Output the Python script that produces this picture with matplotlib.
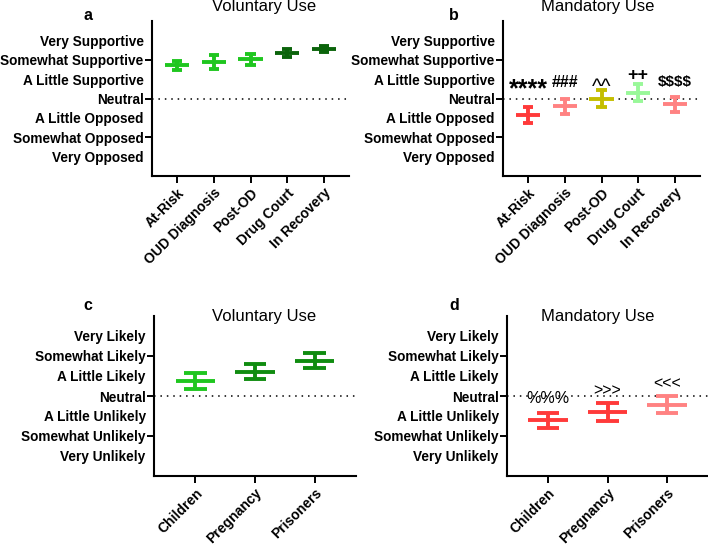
import numpy as np
import matplotlib.pyplot as plt

plt.rcParams['font.family'] = ['Liberation Sans', 'DejaVu Sans']

# panels a/b: support for naloxone use by setting
settings = ['At-Risk', 'OUD Diagnosis', 'Post-OD', 'Drug Court', 'In Recovery']
support_labels = ['Very Opposed', 'Somewhat Opposed', 'A Little Opposed', 'Neutral',
                  'A Little Supportive', 'Somewhat Supportive', 'Very Supportive']
vol_mean = [1.72, 1.88, 2.02, 2.33, 2.57]
vol_err = [0.23, 0.35, 0.28, 0.20, 0.15]
vol_colors = ['#1fc61f', '#1fc61f', '#1fc61f', '#0b640b', '#0b640b']
man_mean = [-0.85, -0.41, 0.0, 0.30, -0.29]
man_err = [0.41, 0.41, 0.44, 0.44, 0.39]
man_colors = ['#ff3a3a', '#ff8282', '#c4be00', '#99f899', '#ff8282']
man_sig = ['****', '###', '^^', '++', '$$$$']

# panels c/d: likelihood of use by population
groups = ['Children', 'Pregnancy', 'Prisoners']
likely_labels = ['Very Unlikely', 'Somewhat Unlikely', 'A Little Unlikely', 'Neutral',
                 'A Little Likely', 'Somewhat Likely', 'Very Likely']
pop_vol_mean = [0.74, 1.22, 1.77]
pop_vol_err = [0.39, 0.38, 0.38]
pop_vol_colors = ['#1fc61f', '#108c10', '#108c10']
pop_man_mean = [-1.22, -0.79, -0.43]
pop_man_err = [0.38, 0.44, 0.44]
pop_man_colors = ['#ff3a3a', '#ff3a3a', '#ff8282']
pop_man_sig = ['%%%', '>>>', '<<<']


def draw_panel(ax, cats, means, errs, colors, ylabels, cap_hw):
    x = np.arange(len(cats))
    for xi, m, e, c in zip(x, means, errs, colors):
        ax.hlines(m, xi - 0.33, xi + 0.33, color=c, lw=2.8)
        ax.vlines(xi, m - e, m + e, color=c, lw=2.8)
        ax.hlines([m - e, m + e], xi - cap_hw, xi + cap_hw, color=c, lw=2.8)

    ax.axhline(0, color='k', linestyle=(0, (1, 3.2)), lw=1.1, zorder=0)
    ax.set_xlim(-0.69, len(cats) - 0.31)
    ax.set_ylim(-4, 4)

    levels = np.arange(-3, 4)
    ax.set_yticks(levels[1::2], [ylabels[i] for i in range(1, 7, 2)])
    ax.set_yticks(levels[0::2], [ylabels[i] for i in range(0, 7, 2)], minor=True)
    ax.tick_params(axis='y', which='major', length=5, width=1.4, pad=1, labelsize=9.8)
    ax.tick_params(axis='y', which='minor', length=0, pad=6, labelsize=9.8)
    for lab in ax.get_yticklabels(which='both'):
        lab.set_fontweight('bold')

    ax.set_xticks(x, cats, rotation=45, ha='right', rotation_mode='anchor',
                  fontweight='bold', fontsize=10)
    ax.tick_params(axis='x', length=5, width=1.4, pad=2)

    ax.spines[['top', 'right']].set_visible(False)
    ax.spines[['left', 'bottom']].set_linewidth(1.5)


fig = plt.figure(figsize=(7.08, 5.46), dpi=100)

W, H = 708, 546


def add_ax(left, top, right, bottom):
    return fig.add_axes([left / W, 1 - bottom / H, (right - left) / W, (bottom - top) / H])


ax_a = add_ax(152, 21, 349, 176)
ax_b = add_ax(503, 21, 700, 176)
ax_c = add_ax(154, 316, 356, 476)
ax_d = add_ax(507, 316, 708, 476)

draw_panel(ax_a, settings, vol_mean, vol_err, vol_colors, support_labels, 0.14)
draw_panel(ax_b, settings, man_mean, man_err, man_colors, support_labels, 0.14)
draw_panel(ax_c, groups, pop_vol_mean, pop_vol_err, pop_vol_colors, likely_labels, 0.19)
draw_panel(ax_d, groups, pop_man_mean, pop_man_err, pop_man_colors, likely_labels, 0.19)

# significance marks: baseline height, font size, weight
b_marks = [(0.12, 18, 'bold'), (0.59, 11.5, 'bold'), (0.30, 15, 'normal'),
           (0.94, 13, 'bold'), (0.67, 11, 'bold')]
for i, (s, (y, fs, fw)) in enumerate(zip(man_sig, b_marks)):
    ax_b.text(i, y, s, ha='center', va='baseline', fontsize=fs, fontweight=fw,
              parse_math=False)

d_marks = [-0.36, 0.04, 0.38]
for i, (s, y) in enumerate(zip(pop_man_sig, d_marks)):
    ax_d.text(i, y, s, ha='center', va='baseline', fontsize=11.5, parse_math=False)

# titles and panel letters
fig.text(264 / W, 1 - 7 / H, 'Voluntary Use', ha='center', va='center', fontsize=12)
fig.text(598 / W, 1 - 7 / H, 'Mandatory Use', ha='center', va='center', fontsize=12)
fig.text(264 / W, 1 - 316 / H, 'Voluntary Use', ha='center', va='center', fontsize=12)
fig.text(598 / W, 1 - 316 / H, 'Mandatory Use', ha='center', va='center', fontsize=12)

for letter, (px, py) in zip('abcd', [(88, 16), (454, 16), (88, 306), (454, 306)]):
    fig.text(px / W, 1 - py / H, letter, ha='center', va='center', fontsize=11.5, fontweight='bold')

fig.savefig('out.png', dpi=100)
